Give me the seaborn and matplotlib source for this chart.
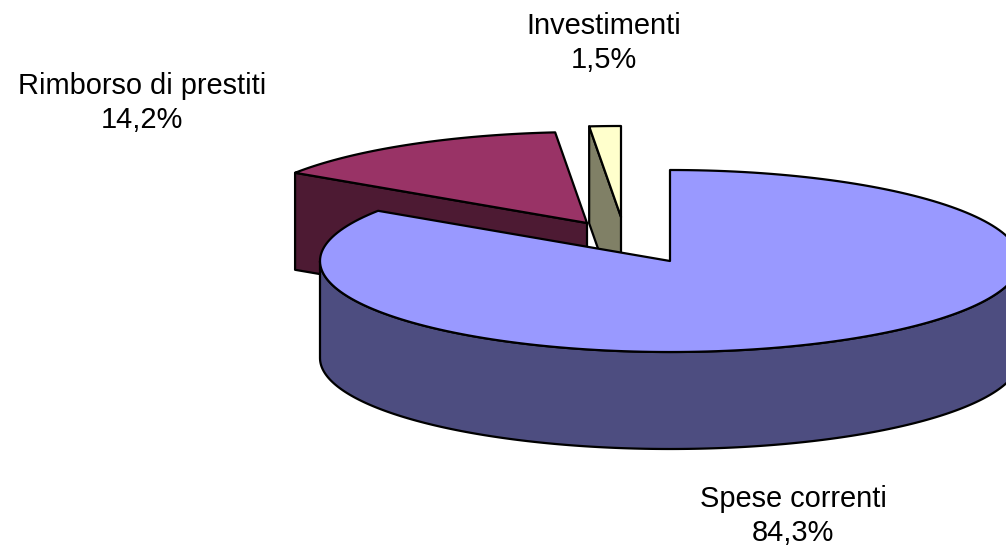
import numpy as np
import matplotlib
matplotlib.use("Agg")
import matplotlib.pyplot as plt
import seaborn as sns

# dati della torta
categorie = ["Spese correnti", "Rimborso di prestiti", "Investimenti"]
valori = [84.3, 14.25, 1.45]
etichette = ["84,3%", "14,2%", "1,5%"]
colori_sopra = ["#9999ff", "#993366", "#ffffcc"]
colori_lato = ["#4d4d80", "#4d1a33", "#808066"]

# geometria della vista (pixel)
rx, ry, spessore = 350, 91, 97
centri = [(670, 261), (587, 223), (621, 217)]
pos_testo = [(793, 516), (142, 103), (604, 43)]

sns.set_theme(style="white")
plt.rcParams["font.family"] = ["Liberation Sans", "DejaVu Sans"]

fig = plt.figure(figsize=(10.06, 5.5), dpi=100)
ax = fig.add_axes([0, 0, 1, 1])
ax.set_xlim(0, 1006)
ax.set_ylim(550, 0)
ax.axis("off")


def arco(c, a0, a1, dy=0):
    t = np.radians(np.linspace(a0, a1, 200))
    return c[0] + rx * np.sin(t), c[1] - ry * np.cos(t) + dy


# angoli in senso orario a partire dall'alto
fine = np.cumsum(valori) / np.sum(valori) * 360
inizio = np.r_[0, fine[:-1]]

# si disegna dal fondo verso il davanti
for i in [2, 1, 0]:
    c = centri[i]
    a0, a1 = inizio[i], fine[i]
    xs, ys = arco(c, a0, a1)

    # faccia di taglio visibile
    if i > 0:
        fx = [xs[0], c[0], c[0], xs[0]]
        fy = [ys[0], c[1], c[1] + spessore, ys[0] + spessore]
        ax.fill(fx, fy, fc=colori_lato[i], ec="black", lw=1.6, joinstyle="round")
    else:
        # fianco esterno, solo la metà davanti
        lx, ly = arco(c, 90, 270)
        lx2, ly2 = arco(c, 90, 270, spessore)
        ax.fill(np.r_[lx, lx2[::-1]], np.r_[ly, ly2[::-1]], fc=colori_lato[i], ec="black", lw=1.6)

    ax.fill(np.r_[c[0], xs], np.r_[c[1], ys], fc=colori_sopra[i], ec="black", lw=1.6, joinstyle="round")

for i in range(3):
    ax.text(pos_testo[i][0], pos_testo[i][1], categorie[i] + "\n" + etichette[i],
            ha="center", va="center", fontsize=20.9, color="black", linespacing=1.3)

fig.savefig("out.png", dpi=100, facecolor="white")
